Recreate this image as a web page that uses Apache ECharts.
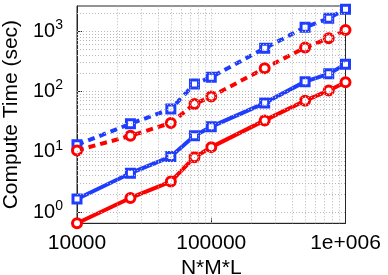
<!DOCTYPE html>
<html>
<head>
<meta charset="utf-8">
<script src="https://cdn.jsdelivr.net/npm/echarts@6/dist/echarts.min.js"></script>
<style>html,body{margin:0;padding:0;background:#fff}#c{width:388px;height:275px}</style>
</head>
<body>
<div id="c"></div>
<script>
// N*M*L values (x)
var nml = [10000, 25000, 50000, 75000, 100000, 250000, 500000, 750000, 1000000];
// compute times (sec)
var redSolid   = [0.65, 1.71, 3.2, 8.1, 11.9, 33, 70, 103, 142];
var blueSolid  = [1.64, 4.4, 8.3, 18.3, 26, 64, 145, 195, 282];
var redDashed  = [10.5, 18.3, 30, 62, 82, 242, 531, 760, 1043];
var blueDashed = [13, 29, 51, 132, 172, 519, 1156, 1629, 2296];
// axis ranges
var xMin = 10000, xMax = 1000000;
var yMin = 0.65, yMax = 2600;
// grid line values
var yGrid = [1,2,3,4,5,6,7,8,9,10,20,30,40,50,60,70,80,90,100,200,300,400,500,600,700,800,900,1000,2000];
var xGrid = [20000,30000,40000,50000,60000,70000,80000,90000,100000,200000,300000,400000,500000,600000,700000,800000,900000];
var xTickText = {10000: '10000', 100000: '100000', 1000000: '1e+006'};

var FONT = 'Liberation Sans, Arial, Helvetica, sans-serif';
var BLUE = '#1f3dff', RED = '#ff0000';

function pairs(ys) { return nml.map(function (x, i) { return [x, ys[i]]; }); }

var gridMarks = yGrid.map(function (v) { return { yAxis: v }; })
  .concat(xGrid.map(function (v) { return { xAxis: v }; }));

function mk(name, ys, color, dashed, symbol) {
  return {
    name: name, type: 'line', data: pairs(ys), z: 3,
    symbol: symbol, symbolSize: symbol === 'rect' ? 8 : 9,
    showAllSymbol: true,
    lineStyle: { color: color, width: 4, type: dashed ? [7, 5] : 'solid' },
    itemStyle: { color: '#fff', borderColor: color, borderWidth: 3 },
    animation: false
  };
}

var chart = echarts.init(document.getElementById('c'), null, { renderer: 'canvas' });
chart.setOption({
  animation: false,
  grid: { left: 77, right: 42.5, top: 6, bottom: 51.7, containLabel: false, outerBoundsMode: 'none',
          show: true, borderColor: '#262626', borderWidth: 1, backgroundColor: 'transparent' },
  xAxis: {
    type: 'log', logBase: 10, min: xMin, max: xMax,
    name: 'N*M*L', nameLocation: 'middle', nameGap: 28,
    nameTextStyle: { fontFamily: FONT, fontSize: 21, color: '#000' },
    axisLine: { show: true, lineStyle: { color: '#262626', width: 1 } },
    axisTick: { show: true, inside: true, length: 5, lineStyle: { color: '#262626' } },
    splitLine: { show: false },
    axisLabel: {
      margin: 9, fontFamily: FONT, fontSize: 21, color: '#000',
      showMinLabel: true, showMaxLabel: true,
      formatter: function (v) { return xTickText[Math.round(v)] || ''; }
    }
  },
  yAxis: {
    type: 'log', logBase: 10, min: yMin, max: yMax,
    name: 'Compute Time (sec)', nameLocation: 'middle', nameGap: 51,
    nameTextStyle: { fontFamily: FONT, fontSize: 21, color: '#000' },
    axisLine: { show: true, lineStyle: { color: '#262626', width: 1 } },
    axisTick: { show: true, inside: true, length: 5, lineStyle: { color: '#262626' } },
    splitLine: { show: false },
    axisLabel: {
      margin: 14, color: '#000',
      showMinLabel: false, showMaxLabel: false,
      formatter: function (v) {
        var e = Math.log10(v);
        if (Math.abs(e - Math.round(e)) > 1e-6) return '';
        return '{b|10}{s|' + Math.round(e) + '}';
      },
      rich: {
        b: { fontFamily: FONT, fontSize: 20, color: '#000' },
        s: { fontFamily: FONT, fontSize: 14, color: '#000', padding: [0, 0, 12, 0] }
      }
    }
  },
  series: [
    {
      type: 'line', data: [], z: 1, silent: true,
      markLine: {
        silent: true, symbol: ['none', 'none'], animation: false,
        label: { show: false },
        lineStyle: { color: '#b8b8b8', type: [1, 2], width: 1 },
        emphasis: { disabled: true },
        data: gridMarks
      }
    },
    mk('blue dashed', blueDashed, BLUE, true, 'rect'),
    mk('red dashed', redDashed, RED, true, 'circle'),
    mk('blue solid', blueSolid, BLUE, false, 'rect'),
    mk('red solid', redSolid, RED, false, 'circle')
  ]
});
</script>
</body>
</html>
